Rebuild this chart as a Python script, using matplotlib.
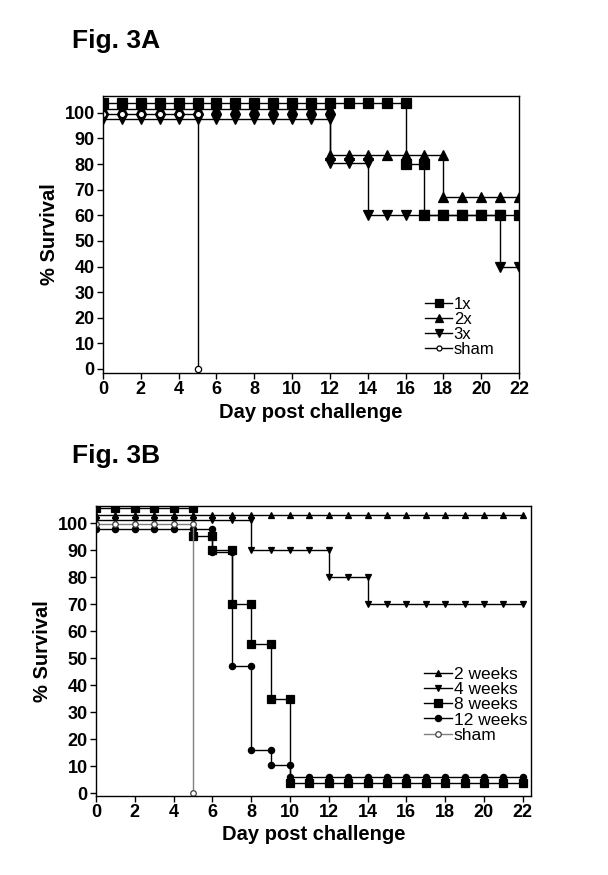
import matplotlib
matplotlib.use("Agg")
import matplotlib.pyplot as plt

plt.rcParams['font.family'] = ['Liberation Sans', 'DejaVu Sans']

days = list(range(23))

# Fig. 3A - % survival per day (curves offset slightly at the top as in the original)
a_1x = [104, 104, 104, 104, 104, 104, 104, 104, 104, 104, 104, 104, 104, 104, 104, 104,
        80, 60, 60, 60, 60, 60, 60]
a_2x = [101.5, 101.5, 101.5, 101.5, 101.5, 101.5, 101.5, 101.5, 101.5, 101.5, 101.5, 101.5,
        83.7, 83.7, 83.7, 83.7, 83.7, 83.7, 67, 67, 67, 67, 67]
a_3x = [97.5, 97.5, 97.5, 97.5, 97.5, 97.5, 97.5, 97.5, 97.5, 97.5, 97.5, 97.5,
        80.3, 80.3, 60.2, 60.2, 60.2, 60.2, 60.2, 60.2, 60.2, 39.7, 39.7]
a_sham_days = [0, 1, 2, 3, 4, 5]
a_sham = [99.7, 99.7, 99.7, 99.7, 99.7, 0]

# Fig. 3B
b_2wk = [103] * 23
b_4wk = [101.3, 101.3, 101.3, 101.3, 101.3, 101.3, 101.3, 101.3, 90, 90, 90, 90,
         80, 80, 70.1, 70.1, 70.1, 70.1, 70.1, 70.1, 70.1, 70.1, 70.1]
b_8wk = [105.8, 105.8, 105.8, 105.8, 105.8, 95.4, 90.1, 70, 55.3, 34.9,
         3.9, 3.9, 3.9, 3.9, 3.9, 3.9, 3.9, 3.9, 3.9, 3.9, 3.9, 3.9, 3.9]
b_12wk = [97.8, 97.8, 97.8, 97.8, 97.8, 97.8, 89.3, 47.3, 16.2, 10.5,
          6.2, 6.2, 6.2, 6.2, 6.2, 6.2, 6.2, 6.2, 6.2, 6.2, 6.2, 6.2, 6.2]
b_sham_days = [0, 1, 2, 3, 4, 5]
b_sham = [99.6, 99.6, 99.6, 99.6, 99.6, 0]


def km(ax, x, y, label, marker, ms, color='black', mfc='black', mec='black'):
    # staircase: add the value before the drop at each drop day
    xs, ys = [], []
    for i in range(len(x)):
        if i > 0 and y[i] != y[i - 1]:
            xs.append(x[i]); ys.append(y[i - 1])
        xs.append(x[i]); ys.append(y[i])
    ax.plot(xs, ys, color=color, lw=1.0, marker=marker, ms=ms,
            mfc=mfc, mec=mec, mew=0.9, label=label)


def style(ax, xmax, ymin, ymax):
    ax.set_xlim(0, xmax)
    ax.set_ylim(ymin, ymax)
    ax.set_xticks(range(0, 23, 2))
    ax.set_yticks(range(0, 101, 10))
    ax.tick_params(direction='out', length=4, width=1, labelsize=13, pad=2)
    for lab in ax.get_xticklabels() + ax.get_yticklabels():
        lab.set_fontweight('bold')
    for s in ax.spines.values():
        s.set_linewidth(1)
    ax.set_xlabel('Day post challenge', fontsize=14.5, fontweight='bold', labelpad=3)
    ax.set_ylabel('% Survival', fontsize=14.5, fontweight='bold', labelpad=4)


fig = plt.figure(figsize=(6.08, 8.75), dpi=100)

axA = fig.add_axes([0.1694, 0.5737, 0.6842, 0.3166])
km(axA, days, a_1x, '1x', 's', 6.5)
km(axA, days, a_2x, '2x', '^', 6.5)
km(axA, days, a_3x, '3x', 'v', 6.5)
km(axA, a_sham_days, a_sham, 'sham', 'o', 4.5, mfc='white')
style(axA, 22, -1.6, 106.6)
axA.legend(loc='upper left', bbox_to_anchor=(0.775, 0.275), frameon=False,
           fontsize=12, handlelength=1.6, handletextpad=0.1, markerscale=0.8,
           labelspacing=0.0, borderpad=0, borderaxespad=0)

axB = fig.add_axes([0.1579, 0.0903, 0.7155, 0.3314])
km(axB, days, b_2wk, '2 weeks', '^', 5)
km(axB, days, b_4wk, '4 weeks', 'v', 5)
km(axB, days, b_8wk, '8 weeks', 's', 5.5)
km(axB, days, b_12wk, '12 weeks', 'o', 4.5)
km(axB, b_sham_days, b_sham, 'sham', 'o', 4, color='#808080', mfc='white', mec='#404040')
style(axB, 22.43, -1.0, 106.4)
axB.legend(loc='upper left', bbox_to_anchor=(0.755, 0.445), frameon=False,
           fontsize=12.5, handlelength=1.6, handletextpad=0.1,
           labelspacing=0.0, borderpad=0, borderaxespad=0)

fig.text(0.118, 0.9448, 'Fig. 3A', fontsize=19, fontweight='bold')
fig.text(0.118, 0.4709, 'Fig. 3B', fontsize=19, fontweight='bold')

fig.savefig('out.png', dpi=100)
